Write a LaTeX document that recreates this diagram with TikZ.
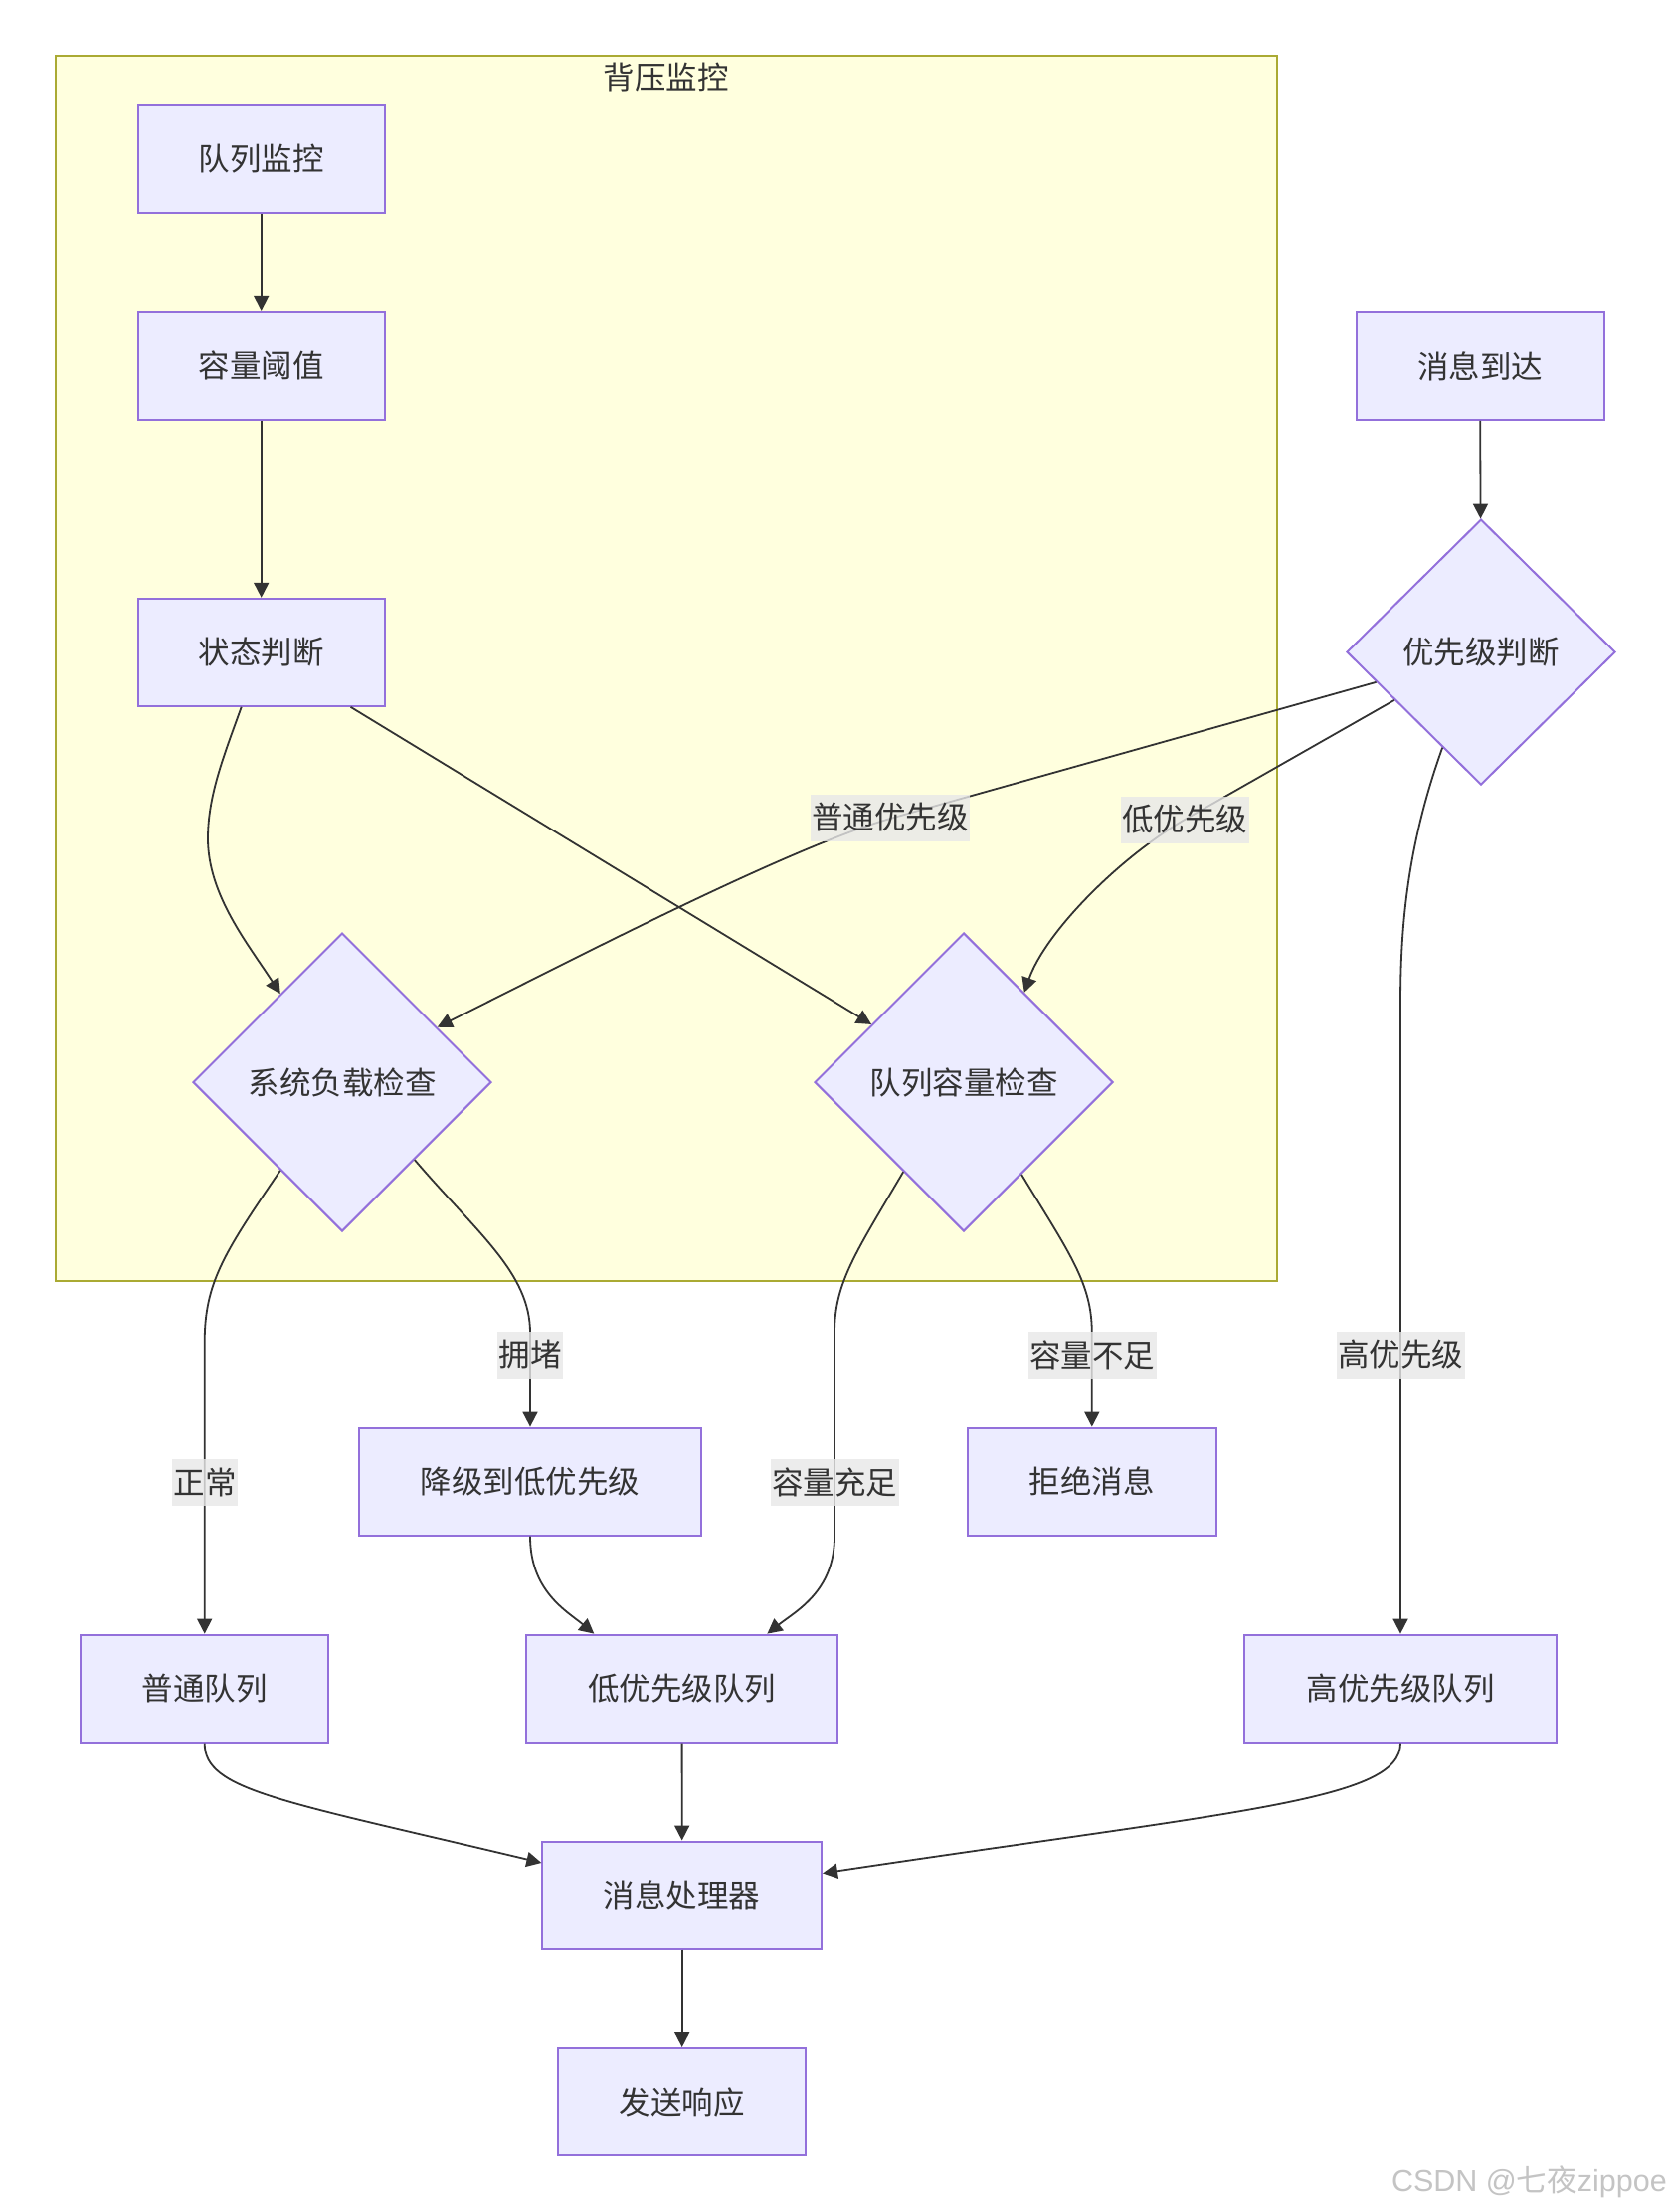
\documentclass[tikz,border=0pt]{standalone}
\usepackage{fontspec}
\setmainfont{Noto Sans CJK SC}
\newfontfamily\latwm{Liberation Sans}
\usetikzlibrary{shapes.geometric,arrows.meta}
\definecolor{nodefill}{HTML}{ECECFF}
\definecolor{nodeline}{HTML}{9370DB}
\definecolor{clfill}{HTML}{FFFFDE}
\definecolor{clline}{HTML}{AAAA33}
\definecolor{edgec}{HTML}{333333}
\definecolor{lblfill}{HTML}{E8E8E8}
\definecolor{wmc}{HTML}{C4C4C4}
\begin{document}
\begin{tikzpicture}[x=1pt,y=-1pt,
  font=\fontsize{31.5}{36}\selectfont, text=edgec,
  box/.style={draw=nodeline, fill=nodefill, line width=2pt, minimum height=108pt, inner sep=0pt},
  dia/.style={diamond, draw=nodeline, fill=nodefill, line width=2pt, inner sep=0pt, minimum width=300pt, minimum height=300pt},
  arr/.style={draw=edgec, line width=1.8pt, -{Triangle[length=15pt,width=15pt]}},
  lbl/.style={fill=lblfill, fill opacity=0.8, text opacity=1, inner xsep=1.5pt, inner ysep=0pt, minimum height=47pt}
]
\useasboundingbox (0,0) rectangle (1677,2224);
\fill[white] (0,0) rectangle (1677,2224);

% cluster
\node[draw=clline, fill=clfill, line width=2pt, minimum width=1228pt, minimum height=1232pt, inner sep=0pt] (cl) at (669.7,671.9) {};
\node (cltitle) at (669.7,78) {背压监控};

% nodes
\node[box, minimum width=248pt] (mon) at (262.7,160) {队列监控};
\node[box, minimum width=248pt] (thr) at (262.7,367.9) {容量阈值};
\node[box, minimum width=248pt] (status) at (262.7,655.8) {状态判断};
\node[box, minimum width=249pt] (arrive) at (1488,367.9) {消息到达};
\node[dia, minimum width=270pt, minimum height=267pt] (prio) at (1489,655.6) {优先级判断};
\node[dia] (sys) at (344,1088) {系统负载检查};
\node[dia] (qcap) at (969,1088) {队列容量检查};
\node[box, minimum width=344.5pt] (degrade) at (533,1489.6) {降级到低优先级};
\node[box, minimum width=250pt] (reject) at (1097.8,1489.6) {拒绝消息};
\node[box, minimum width=248.6pt] (normalq) at (205.7,1697.6) {普通队列};
\node[box, minimum width=313pt] (lowq) at (685.6,1697.6) {低优先级队列};
\node[box, minimum width=313.5pt] (highq) at (1408,1697.6) {高优先级队列};
\node[box, minimum width=280.7pt] (proc) at (685.7,1905.5) {消息处理器};
\node[box, minimum width=248.6pt] (send) at (685.7,2113) {发送响应};

% edges
\draw[arr] (mon) -- (thr);
\draw[arr] (thr) -- (status);
\draw[arr] ([xshift=-20pt]status.south) .. controls (225,760) and (209,800) .. (209,843) .. controls (209,900) and (250,950) .. (sys.125.6);
\draw[arr] ([xshift=89.8pt]status.south) -- (qcap.148.2);
\draw[arr] (arrive) -- (prio);
\draw[arr] (prio.196.1) -- (895,823) .. controls (790,853) and (560,973) .. (sys.30);
\draw[arr] (prio.209.3) -- (1191,824) .. controls (1120,866) and (1050,940) .. (qcap.56.2);
\draw[arr] (prio.248.8) .. controls (1415,850) and (1408,930) .. (1408,1010) -- (highq.north);
\draw[arr] (sys.235) .. controls (225,1260) and (205.7,1290) .. (205.7,1350) -- (normalq.north);
\draw[arr] (sys.313.2) .. controls (480,1240) and (533,1280) .. (533,1340) -- (degrade.north);
\draw[arr] (qcap.236.1) .. controls (860,1260) and (839,1290) .. (839,1340) -- (839,1545) .. controls (839,1600) and (800,1620) .. ([xshift=85.8pt]lowq.north);
\draw[arr] (qcap.302.5) .. controls (1075,1260) and (1097.8,1290) .. (1097.8,1340) -- (reject.north);
\draw[arr] (degrade.south) .. controls (533,1600) and (570,1620) .. ([xshift=-88.3pt]lowq.north);
\draw[arr] (lowq) -- (proc);
\draw[arr] (normalq.south) .. controls (205.7,1800) and (280,1810) .. ([yshift=32.5pt]proc.west);
\draw[arr] (highq.south) .. controls (1408,1810) and (1250,1820) .. ([yshift=22pt]proc.east);
\draw[arr] (proc) -- (send);

% edge labels
\node[lbl] (l1) at (895,822) {普通优先级};
\node[lbl] (l2) at (1191,824) {低优先级};
\node[lbl] (l3) at (533,1362) {拥堵};
\node[lbl] (l4) at (1098,1362) {容量不足};
\node[lbl] (l5) at (1408,1362) {高优先级};
\node[lbl] (l6) at (206,1490) {正常};
\node[lbl] (l7) at (839,1490) {容量充足};

% watermark
\node[anchor=east, text=wmc, font=\fontsize{30.5}{32}\selectfont, inner sep=0pt] (wm) at (1676,2194) {{\latwm CSDN @}七夜{\latwm zippoe}};
\end{tikzpicture}
\end{document}
